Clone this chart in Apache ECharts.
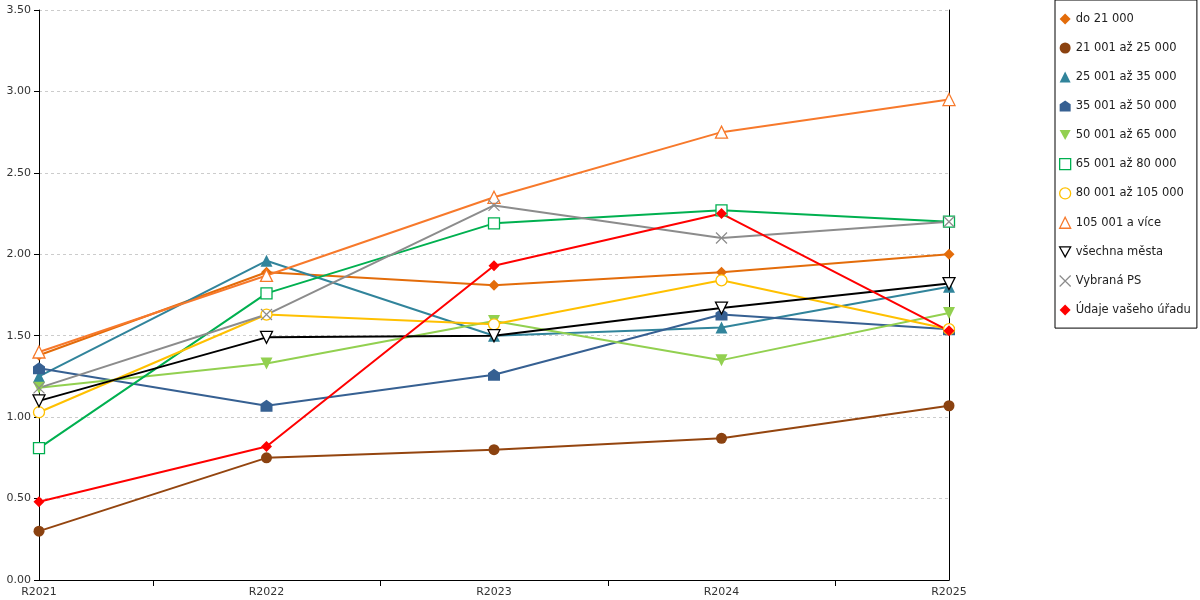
<!DOCTYPE html>
<html>
<head>
<meta charset="utf-8">
<script src="https://cdn.jsdelivr.net/npm/echarts@6/dist/echarts.min.js"></script>
<style>html,body{margin:0;padding:0;background:#fff}#c{width:1200px;height:600px}</style>
</head>
<body>
<div id="c"></div>
<script>
const categories = ['R2021', 'R2022', 'R2023', 'R2024', 'R2025'];
const yTicks = [0, 0.5, 1, 1.5, 2, 2.5, 3, 3.5];

const do21000 = [1.38, 1.89, 1.81, 1.89, 2.00];
const od21do25 = [0.30, 0.75, 0.80, 0.87, 1.07];
const od25do35 = [1.25, 1.96, 1.50, 1.55, 1.80];
const od35do50 = [1.30, 1.07, 1.26, 1.63, 1.54];
const od50do65 = [1.18, 1.33, 1.59, 1.35, 1.64];
const od65do80 = [0.81, 1.76, 2.19, 2.27, 2.20];
const od80do105 = [1.03, 1.63, 1.57, 1.84, 1.54];
const od105 = [1.40, 1.87, 2.35, 2.75, 2.95];
const vsechnaMesta = [1.10, 1.49, 1.50, 1.67, 1.82];
const vybranaPS = [1.18, 1.63, 2.30, 2.10, 2.20];
const udajeUradu = [0.48, 0.82, 1.93, 2.25, 1.53];

const HOUSE = 'path://M0,-10 L10,-3 L10,10 L-10,10 L-10,-3 Z';
const DOWNTRI = 'path://M-10,-9 L10,-9 L0,9 Z';
const CROSS = 'path://M0,0 L10,10 M10,0 L0,10';

const defs = [
  {name: 'do 21 000', data: do21000, color: '#E36C0A', symbol: 'diamond', size: 11, item: {color: '#E36C0A'}},
  {name: '21 001 až 25 000', data: od21do25, color: '#94450F', symbol: 'circle', size: 11, item: {color: '#8B4210'}},
  {name: '25 001 až 35 000', data: od25do35, color: '#31849B', symbol: 'triangle', size: 12, item: {color: '#31849B'}},
  {name: '35 001 až 50 000', data: od35do50, color: '#366092', symbol: HOUSE, size: 12, item: {color: '#366092'}},
  {name: '50 001 až 65 000', data: od50do65, color: '#92D050', symbol: DOWNTRI, size: 12, item: {color: '#92D050'}},
  {name: '65 001 až 80 000', data: od65do80, color: '#00B050', symbol: 'rect', size: 11, item: {color: '#fff', borderColor: '#00B050', borderWidth: 1.3}},
  {name: '80 001 až 105 000', data: od80do105, color: '#FFC000', symbol: 'circle', size: 11, item: {color: '#fff', borderColor: '#FFC000', borderWidth: 1.3}},
  {name: '105 001 a více', data: od105, color: '#F7792B', symbol: 'triangle', size: 12, item: {color: '#fff', borderColor: '#F7792B', borderWidth: 1.3}},
  {name: 'všechna města', data: vsechnaMesta, color: '#000000', symbol: DOWNTRI, size: 12, item: {color: '#fff', borderColor: '#000', borderWidth: 1.3}},
  {name: 'Vybraná PS', data: vybranaPS, color: '#8C8C8C', symbol: CROSS, size: 11, item: {color: 'transparent', borderColor: '#8C8C8C', borderWidth: 1.2}},
  {name: 'Údaje vašeho úřadu', data: udajeUradu, color: '#FF0000', symbol: 'diamond', size: 11, item: {color: '#FF0000'}}
];

const series = defs.map(d => ({
  name: d.name,
  type: 'line',
  xAxisIndex: 0,
  yAxisIndex: 0,
  data: d.data,
  symbol: d.symbol,
  symbolSize: d.size,
  showAllSymbol: true,
  lineStyle: {color: d.color, width: 2},
  itemStyle: Object.assign({borderWidth: 0}, d.item),
  emphasis: {disabled: true},
  z: 2
}));

const chart = echarts.init(document.getElementById('c'), null, {renderer: 'canvas'});
chart.setOption({
  animation: false,
  backgroundColor: '#fff',
  textStyle: {fontFamily: 'DejaVu Sans'},
  grid: {left: 39, right: 251, top: 10, bottom: 20, containLabel: false},
  legend: {
    orient: 'vertical',
    left: 1055,
    top: 0,
    padding: [13, 6, 12, 4],
    itemGap: 17,
    itemWidth: 11,
    itemHeight: 11,
    borderColor: '#000',
    borderWidth: 1,
    selectedMode: false,
    textStyle: {fontFamily: 'DejaVu Sans', fontSize: 11.5, lineHeight: 12, color: '#222'},
    data: defs.map(d => ({
      name: d.name,
      icon: d.symbol,
      itemStyle: Object.assign({borderWidth: 0}, d.item)
    }))
  },
  xAxis: [
    {
      type: 'category',
      data: categories,
      boundaryGap: false,
      axisLine: {show: true, lineStyle: {color: '#000', width: 1}},
      axisTick: {show: false},
      axisLabel: {color: '#333', fontSize: 11, margin: 7, fontFamily: 'DejaVu Sans'},
      splitLine: {show: false}
    },
    {
      type: 'category',
      data: categories.slice(1).map(() => ''),
      boundaryGap: true,
      position: 'bottom',
      axisLine: {show: false},
      axisTick: {show: true, alignWithLabel: true, length: 6, lineStyle: {color: '#000'}},
      axisLabel: {show: false},
      splitLine: {show: false}
    }
  ],
  yAxis: [
    {
      type: 'value',
      min: yTicks[0],
      max: yTicks[yTicks.length - 1],
      interval: 0.5,
      axisLine: {show: true, lineStyle: {color: '#000', width: 1}},
      axisTick: {show: true, length: 5, lineStyle: {color: '#000'}},
      axisLabel: {color: '#333', fontSize: 11, margin: 8, fontFamily: 'DejaVu Sans', formatter: v => v.toFixed(2)},
      splitLine: {show: true, lineStyle: {color: '#CCCCCC', type: [3, 3], width: 1}}
    },
    {
      type: 'value',
      position: 'right',
      min: yTicks[0],
      max: yTicks[yTicks.length - 1],
      interval: 0.5,
      axisLine: {show: true, lineStyle: {color: '#000', width: 1}},
      axisTick: {show: false},
      axisLabel: {show: false},
      splitLine: {show: false}
    }
  ],
  series: series
});
</script>
</body>
</html>
